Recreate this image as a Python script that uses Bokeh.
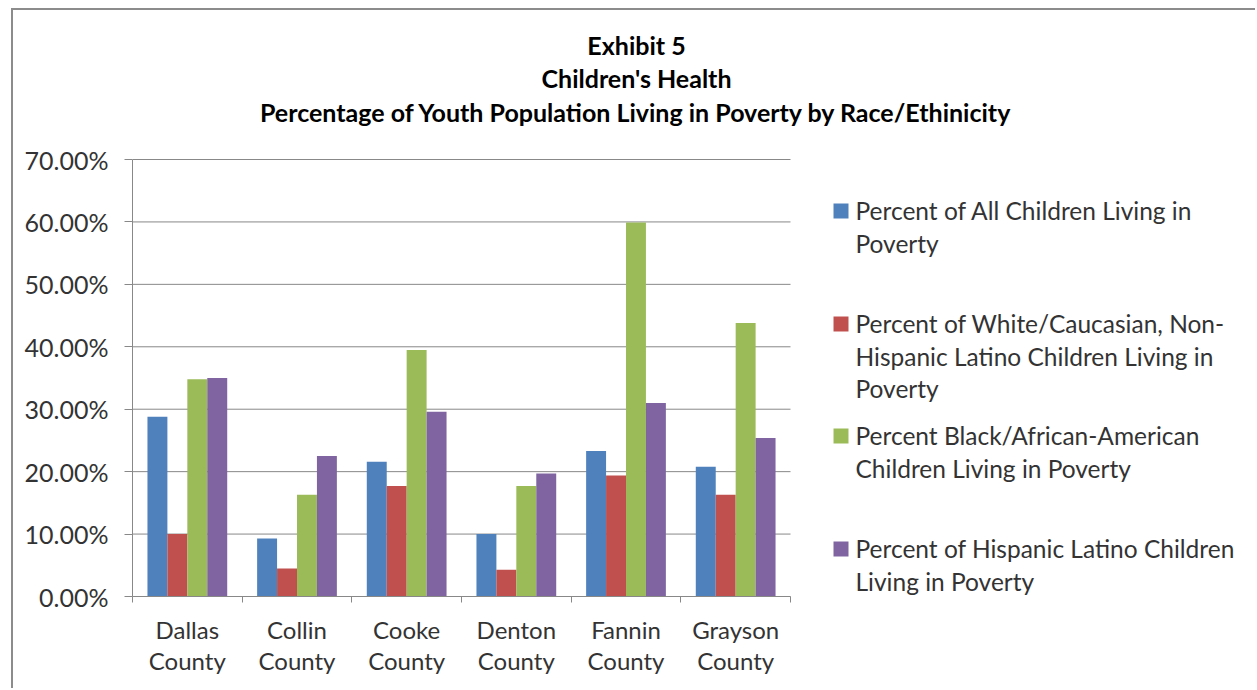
from bokeh.plotting import figure
from bokeh.models import (Range1d, LinearAxis, FixedTicker, NumeralTickFormatter,
                          Label, BoxAnnotation, ColumnDataSource)
from bokeh.transform import dodge
from bokeh.embed import file_html
from bokeh.resources import INLINE

# ---- data -------------------------------------------------------------
counties = ["Dallas County", "Collin County", "Cooke County",
            "Denton County", "Fannin County", "Grayson County"]
all_children = [0.288, 0.093, 0.216, 0.100, 0.233, 0.208]
white_non_hispanic = [0.100, 0.045, 0.177, 0.043, 0.194, 0.163]
black_african_american = [0.348, 0.163, 0.395, 0.177, 0.599, 0.438]
hispanic_latino = [0.350, 0.225, 0.296, 0.197, 0.310, 0.254]

legend_lines = [
    ["Percent of All Children Living in", "Poverty"],
    ["Percent of White/Caucasian, Non-", "Hispanic Latino Children Living in", "Poverty"],
    ["Percent Black/African-American", "Children Living in Poverty"],
    ["Percent of Hispanic Latino Children", "Living in Poverty"],
]
colors = ["#4F81BD", "#C0504D", "#9BBB59", "#8064A2"]
y_ticks = [0.0, 0.1, 0.2, 0.3, 0.4, 0.5, 0.6, 0.7]
y_max = 0.7
title_lines = ["Exhibit 5", "Children's Health",
               "Percentage of Youth Population Living in Poverty by Race/Ethinicity"]

# ---- page geometry (pixels) ----------------------------------------------
W, H = 1257, 690
OX, OY = 13, 10                  # canvas offset: margin + 2px frame border
PLOT_L, PLOT_R = 132, 790        # bar area, left/right
PLOT_T, PLOT_B = 159, 596        # bar area, top/bottom
FONT = "Lato"
TEXT = "#333333"
AXIS = "#888888"

n = len(counties)
slot_centres = [i + 0.5 for i in range(n)]   # one unit-wide slot per county
slot_edges = list(range(n + 1))


def px_x(px):
    """page x pixel -> data x (slot units)"""
    return (px - PLOT_L) / (PLOT_R - PLOT_L) * n


def px_y(py):
    """page y pixel -> data y (fraction)"""
    return (PLOT_B - py) / (PLOT_B - PLOT_T) * y_max


source = ColumnDataSource(data=dict(
    slot=slot_centres, county=counties,
    s0=all_children, s1=white_non_hispanic,
    s2=black_african_american, s3=hispanic_latino,
))

# the frame reaches the right and top edges so that the title and the
# legend can sit inside it; the bar area is the lower-left part
p = figure(x_range=Range1d(0, px_x(W)), y_range=Range1d(0, px_y(OY)),
           width=W - OX, height=H - OY, output_backend="svg", toolbar_location=None,
           title=None, x_axis_location=None, y_axis_location=None,
           min_border_left=PLOT_L - OX, min_border_right=0,
           min_border_top=0, min_border_bottom=H - PLOT_B)
p.outline_line_color = None
p.background_fill_color = "white"
p.border_fill_color = "white"
p.xgrid.visible = False
p.ygrid.visible = False
p.styles = {"margin-left": "11px", "margin-top": "8px",
            "border-left": "2px solid #8c8c8c", "border-top": "2px solid #8c8c8c"}

# ---- horizontal gridlines across the bar area --------------------------
p.segment(x0=[0] * len(y_ticks), x1=[n] * len(y_ticks), y0=y_ticks, y1=y_ticks,
          line_color=AXIS, line_width=1)

# ---- bars (4 per county, 1.5 bar-widths of gap between groups) --------
bar_w = 1 / 5.5
for i, col in enumerate(["s0", "s1", "s2", "s3"]):
    p.vbar(x=dodge("slot", (i - 1.5) * bar_w), top=col,
           width=bar_w, bottom=0, source=source,
           fill_color=colors[i], line_color=None)

# ---- y axis -----------------------------------------------------------
yaxis = LinearAxis(ticker=FixedTicker(ticks=y_ticks, minor_ticks=[]),
                   formatter=NumeralTickFormatter(format="0.00%"),
                   bounds=(0, y_max))
yaxis.axis_line_color = AXIS
yaxis.major_tick_line_color = AXIS
yaxis.major_tick_out = 8
yaxis.major_tick_in = 0
yaxis.minor_tick_line_color = None
yaxis.major_label_standoff = 16
yaxis.major_label_text_font = FONT
yaxis.major_label_text_font_size = "25px"
yaxis.major_label_text_color = TEXT
p.add_layout(yaxis, "left")

# ---- x axis: names at slot centres, tick marks at slot edges ----------
xaxis = LinearAxis(ticker=FixedTicker(ticks=slot_centres, minor_ticks=slot_edges),
                   bounds=(0, n))
xaxis.major_label_overrides = {c: name.replace(" ", "\n")
                               for c, name in zip(slot_centres, counties)}
xaxis.axis_line_color = AXIS
xaxis.major_tick_line_color = None
xaxis.minor_tick_line_color = AXIS
xaxis.minor_tick_out = 6
xaxis.minor_tick_in = 0
xaxis.major_label_text_font = FONT
xaxis.major_label_text_font_size = "24px"
xaxis.major_label_text_color = TEXT
xaxis.major_label_text_line_height = 1.1
xaxis.major_label_standoff = 12
p.add_layout(xaxis, "below")

# ---- three-line title -------------------------------------------------
for line, base in zip(title_lines, [44, 77, 111]):
    p.add_layout(Label(x=px_x(636), y=px_y(base), text=line,
                       text_align="center", text_baseline="alphabetic",
                       text_font=FONT, text_font_style="bold",
                       text_font_size="25px", text_color="black"))

# ---- legend -----------------------------------------------------------
square_bottoms = [218, 331, 443, 556]
first_lines = [210, 323, 435, 548]
pitch = 32.5
for lines, sq, base, color in zip(legend_lines, square_bottoms, first_lines, colors):
    p.add_layout(BoxAnnotation(left=px_x(833), right=px_x(848),
                               top=px_y(sq - 15), bottom=px_y(sq),
                               fill_color=color, fill_alpha=1, line_color=None))
    for k, txt in enumerate(lines):
        p.add_layout(Label(x=px_x(855), y=px_y(base + k * pitch), text=txt,
                           text_align="left", text_baseline="alphabetic",
                           text_font=FONT, text_font_size="24.5px", text_color=TEXT))

open("out.html", "w").write(file_html(p, INLINE))
